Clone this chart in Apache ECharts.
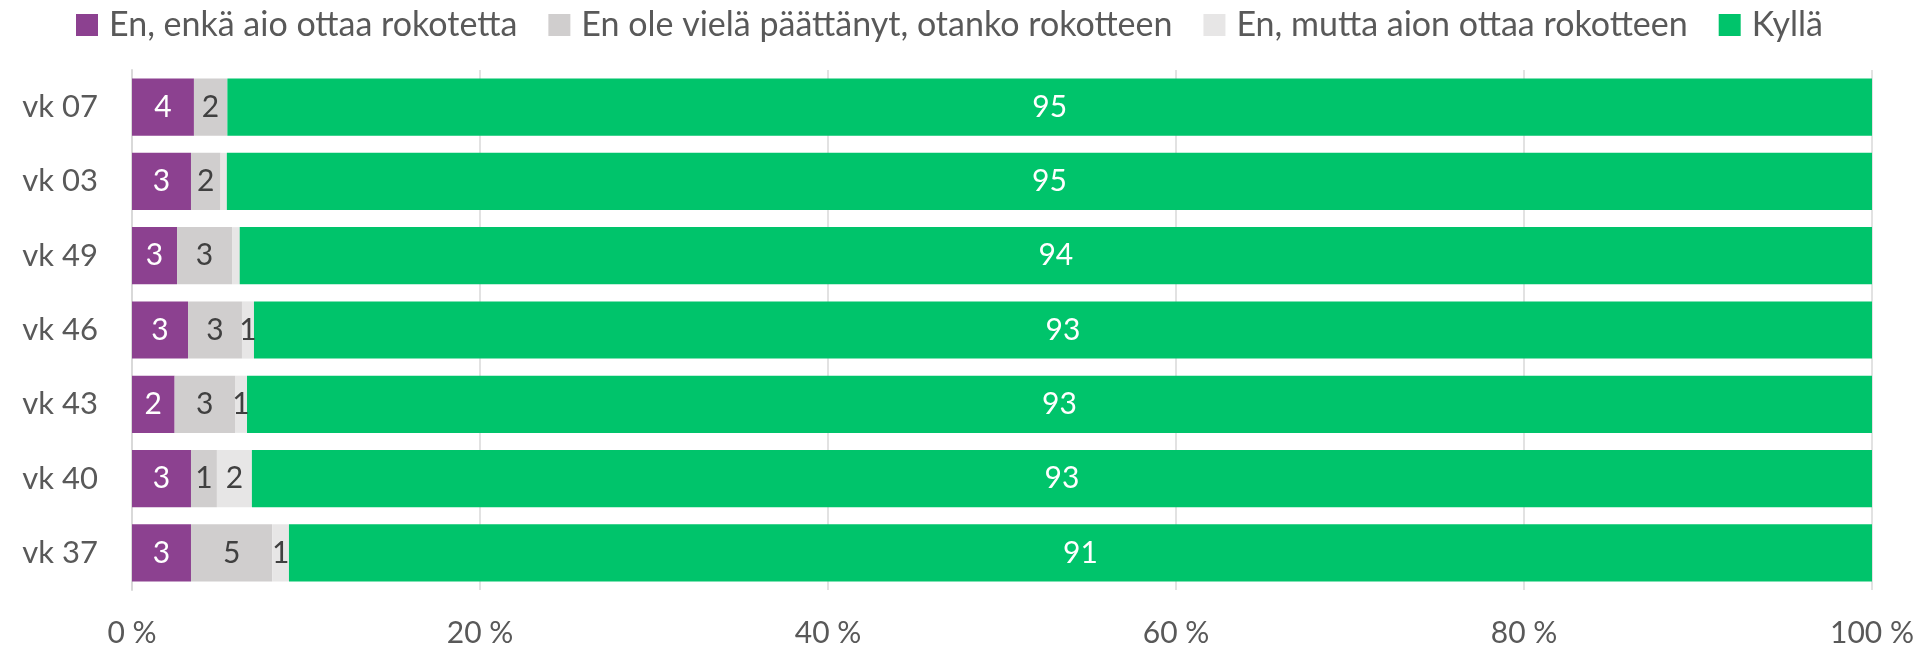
<!DOCTYPE html>
<html>
<head>
<meta charset="utf-8">
<script src="https://cdn.jsdelivr.net/npm/echarts@6/dist/echarts.min.js"></script>
<style>
  html, body { margin: 0; padding: 0; background: #fff; }
  #chart { width: 1924px; height: 653px; }
</style>
</head>
<body>
<div id="chart"></div>
<script>
// categories, bottom to top as drawn by the category axis
const weeks = ['vk 37', 'vk 40', 'vk 43', 'vk 46', 'vk 49', 'vk 03', 'vk 07'];

// shares in %, same order as weeks
const enkaAio   = [3.39, 3.39, 2.45, 3.22, 2.59, 3.39, 3.56];
const enOlePaat = [4.67, 1.49, 3.47, 3.10, 3.16, 1.70, 1.90];
const enMutta   = [0.96, 2.01, 0.69, 0.69, 0.44, 0.36, 0.02];
const kylla     = [90.98, 93.11, 93.39, 92.99, 93.81, 94.55, 94.52];

const seriesNames = [
  'En, enkä aio ottaa rokotetta',
  'En ole vielä päättänyt, otanko rokotteen',
  'En, mutta aion ottaa rokotteen',
  'Kyllä'
];
const xTicks = [0, 20, 40, 60, 80, 100];

const FONT = 'Lato, "Open Sans", sans-serif';
const colors = ['#8C4190', '#D0CECE', '#E7E6E6', '#00C46B'];
const labelColors = ['#ffffff', '#404040', '#404040', '#ffffff'];

const chart = echarts.init(document.getElementById('chart'), null, { renderer: 'canvas' });

const roundLabel = (p) => {
  const v = Math.round(p.value);
  return v === 0 ? '' : String(v);
};

const series = [enkaAio, enOlePaat, enMutta, kylla].map((data, i) => ({
  name: seriesNames[i],
  type: 'bar',
  stack: 'total',
  data,
  barWidth: '77%',
  itemStyle: { color: colors[i] },
  label: {
    show: true,
    position: 'inside',
    formatter: roundLabel,
    color: labelColors[i],
    fontFamily: FONT,
    fontSize: 30
  },
  emphasis: { disabled: true }
}));

chart.setOption({
  animation: false,
  textStyle: { fontFamily: FONT },
  legend: {
    top: 3,
    left: 71,
    icon: 'rect',
    itemWidth: 22,
    itemHeight: 22,
    itemGap: 31,
    textStyle: { fontSize: 34, color: '#595959', fontFamily: FONT, padding: [0, 0, 0, 6] },
    data: seriesNames
  },
  grid: { left: 132, right: 52, top: 70, bottom: 63 },
  xAxis: {
    type: 'value',
    min: 0,
    max: 100,
    interval: 20,
    axisLine: { show: false },
    axisTick: { show: false },
    axisLabel: {
      color: '#595959',
      fontSize: 30,
      fontFamily: FONT,
      margin: 28,
      formatter: (v) => xTicks.includes(v) ? v + ' %' : ''
    },
    splitLine: { lineStyle: { color: '#D9D9D9', width: 1.5 } }
  },
  yAxis: {
    type: 'category',
    data: weeks,
    axisLine: { show: true, lineStyle: { color: '#D9D9D9', width: 2 } },
    axisTick: { show: false },
    axisLabel: { color: '#595959', fontSize: 31, fontFamily: FONT, margin: 34 }
  },
  series
});
</script>
</body>
</html>
